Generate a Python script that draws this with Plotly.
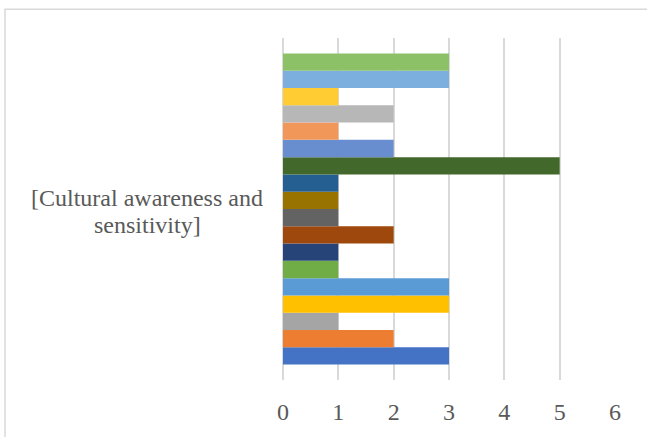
import plotly.graph_objects as go

# Single category, 18 response series (bottom to top)
category = "[Cultural awareness and sensitivity]"
category_lines = ["[Cultural awareness and", "sensitivity]"]
series_names = [f"Series {i}" for i in range(1, 19)]
values = [3, 2, 1, 3, 3, 1, 1, 2, 1, 1, 1, 5, 2, 1, 2, 1, 3, 3]
colors = [
    "#4472C4", "#ED7D31", "#A5A5A5", "#FFC000", "#5B9BD5", "#70AD47",
    "#264478", "#9E480E", "#636363", "#997300", "#255E91", "#43682B",
    "#698ED0", "#F1975A", "#B7B7B7", "#FFCD33", "#7CAFDD", "#8CC168",
]
x_ticks = [0, 1, 2, 3, 4, 5, 6]

fig = go.Figure()
for name, v, c in zip(series_names, values, colors):
    fig.add_trace(go.Bar(
        y=[category], x=[v], name=name, orientation="h",
        marker=dict(color=c, line=dict(width=0)),
    ))

W, H = 647, 437
L, R, T, B = 283, 32, 38, 55
pw, ph = W - L - R, H - T - B
FONT = "Liberation Serif"
GREY = "#595959"

# category label drawn as two centred lines to the left of the bars
label_annots = []
for line, ypx in zip(category_lines, [199, 226]):
    label_annots.append(dict(
        text=line, x=(147 - L) / pw, y=1 - (ypx - T) / ph,
        xref="paper", yref="paper", xanchor="center", yanchor="middle",
        showarrow=False, font=dict(size=24, color=GREY, family=FONT),
    ))

fig.update_layout(
    width=W, height=H,
    margin=dict(l=L, r=R, t=T, b=B),
    barmode="group", bargap=0.09, bargroupgap=0,
    showlegend=False,
    paper_bgcolor="white", plot_bgcolor="white",
    font=dict(family=FONT, color=GREY),
    xaxis=dict(
        range=[0, 6], tickvals=x_ticks, ticktext=[str(t) for t in x_ticks],
        showgrid=True, gridcolor="#D9D9D9", gridwidth=1.5,
        zeroline=True, zerolinecolor="#D9D9D9", zerolinewidth=1.5,
        showline=False, ticks="", ticklabelstandoff=15,
        tickfont=dict(size=24, color=GREY, family=FONT),
    ),
    yaxis=dict(showticklabels=False, showgrid=False, zeroline=False, showline=False),
    annotations=label_annots,
    shapes=[dict(
        type="rect", xref="paper", yref="paper",
        x0=(5 - L) / pw, x1=1.2, y0=-0.3, y1=1 + (T - 9) / ph,
        line=dict(color="#D9D9D9", width=1.5), layer="below",
    )],
)

fig.write_html("out.html")
